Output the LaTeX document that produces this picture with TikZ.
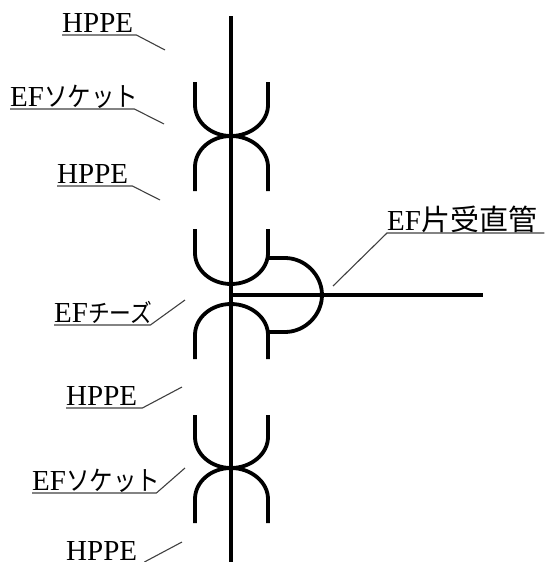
\documentclass[tikz,border=0pt]{standalone}
\usepackage{fontspec}
\setmainfont{Liberation Serif}
\newfontfamily\jpfont{Noto Sans CJK JP}
\newfontfamily\kanafont[FakeStretch=0.87]{Noto Sans CJK JP}
\usepackage{tikz}
\newcommand{\kana}[2]{{\kanafont\fontsize{#1}{#1}\selectfont #2}}
\newcommand{\kanji}[2]{{\jpfont\fontsize{#1}{#1}\selectfont #2}}
% half of a fitting, arms at x=195 and x=268, joint on the main pipe
\newcommand{\cuphalf}[2]{
	\draw[pipe] (195,#1) -- (195,{#2-31}) .. controls (195,{#2-14}) and (211,#2) .. (231,#2) .. controls (251,#2) and (268,{#2-14}) .. (268,{#2-31}) -- (268,#1);
}
\newcommand{\archhalf}[2]{
	\draw[pipe] (195,#2) -- (195,{#1+31}) .. controls (195,{#1+14}) and (211,#1) .. (231,#1) .. controls (251,#1) and (268,{#1+14}) .. (268,{#1+31}) -- (268,#2);
}
\begin{document}
\begin{tikzpicture}[x=1pt,y=-1pt,
	pipe/.style={line width=3.8pt},
	leader/.style={line width=1.1pt,draw=black!75},
	tag/.style={anchor=south west,inner xsep=0pt,inner ysep=2.5pt,text depth=0pt,align=left,font=\fontsize{29}{29}\selectfont}]
	\useasboundingbox (0,0) rectangle (544,562);
	
	\coordinate (maintop) at (231,16);
	\coordinate (mainbot) at (231,562);
	\coordinate (branchstart) at (231,295);
	\coordinate (branchend) at (483,295);
	%pipes
	\draw[pipe] (maintop) -- (mainbot);
	\draw[pipe] (branchstart) -- (branchend);
	\cuphalf{82}{136}
	\archhalf{136}{191}
	\cuphalf{229}{284}
	\archhalf{304}{359}
	\cuphalf{415}{468}
	\archhalf{468}{523}
	%tee outlet
	\draw[pipe] (268,258) -- (285,258) .. controls (305,258) and (322,275) .. (322,295) .. controls (322,315) and (305,332) .. (285,332) -- (268,332);
	%labels
	\node[tag,text width=74pt] (hppea) at (62,35) {HPPE};
	\node[tag,text width=124pt] (socketa) at (10,109) {EF\kana{27}{ソケット}};
	\node[tag,text width=75pt] (hppeb) at (57,186) {HPPE};
	\node[tag,text width=96pt] (tee) at (54,325) {EF\kana{25}{チーズ}};
	\node[tag,text width=76pt] (hppec) at (66,408) {HPPE};
	\node[tag,text width=124pt] (socketb) at (32,493) {EF\kana{27}{ソケット}};
	\node[tag,text width=78pt,inner ysep=1.5pt] (hpped) at (66,562) {HPPE};
	\node[tag,text width=157pt] (straight) at (387,233) {EF\kanji{29}{片受直管}};
	%leaders
	\coordinate (hppeaend) at (165,50);
	\coordinate (socketaend) at (164,124);
	\coordinate (hppebend) at (160,200);
	\coordinate (teeend) at (185,300);
	\coordinate (hppecend) at (182,387);
	\coordinate (socketbend) at (185,468);
	\coordinate (hppedend) at (182,542);
	\coordinate (straightend) at (333,286);
	\draw[leader] (hppea.south west) -- (hppea.south east) -- (hppeaend);
	\draw[leader] (socketa.south west) -- (socketa.south east) -- (socketaend);
	\draw[leader] (hppeb.south west) -- (hppeb.south east) -- (hppebend);
	\draw[leader] (tee.south west) -- (tee.south east) -- (teeend);
	\draw[leader] (hppec.south west) -- (hppec.south east) -- (hppecend);
	\draw[leader] (socketb.south west) -- (socketb.south east) -- (socketbend);
	\draw[leader] (hpped.south east) -- (hppedend);
	\draw[leader] (straight.south east) -- (straight.south west) -- (straightend);
\end{tikzpicture}
\end{document}
